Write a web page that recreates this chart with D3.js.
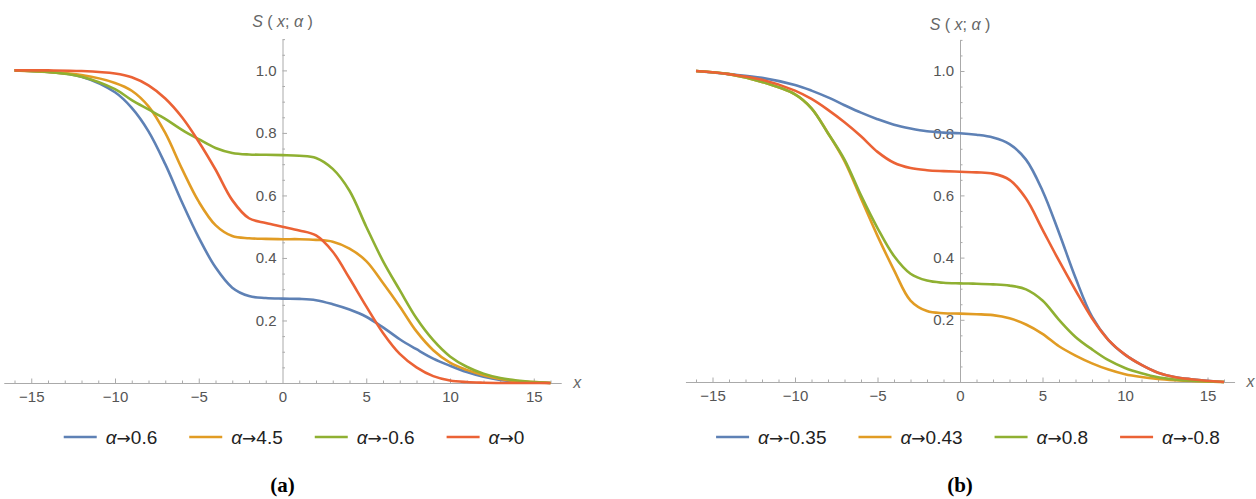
<!DOCTYPE html>
<html>
<head>
<meta charset="utf-8">
<script src="https://cdn.jsdelivr.net/npm/d3@7"></script>
<style>
  body { margin: 0; background: #fff; }
  svg { display: block; font-family: "Liberation Sans", Arial, sans-serif; }
  .tick text { fill: #555; font-size: 15px; }
  .caption { font-family: "Liberation Serif", "Times New Roman", serif; font-weight: bold; font-size: 21px; }
</style>
</head>
<body>
<svg id="chart" width="1256" height="499"></svg>
<script>
// sample points along x (same for every curve)
const xs = [-16, -14, -12, -10, -9, -8, -7, -6, -5, -4, -3, -2, -1, 0, 1, 2, 3, 4, 5, 6, 7, 8, 9, 10, 11, 12, 13, 14, 16];

// panel (a)
const aLabels = ["0.6", "4.5", "-0.6", "0"];
const aBlue   = [1.0, 0.995, 0.98, 0.93, 0.88, 0.805, 0.70, 0.578, 0.465, 0.37, 0.305, 0.278, 0.272, 0.27, 0.269, 0.265, 0.252, 0.235, 0.212, 0.178, 0.14, 0.108, 0.078, 0.055, 0.035, 0.02, 0.01, 0.005, 0.0];
const aOrange = [1.0, 0.995, 0.985, 0.96, 0.935, 0.885, 0.80, 0.685, 0.58, 0.505, 0.47, 0.463, 0.461, 0.46, 0.46, 0.458, 0.452, 0.43, 0.39, 0.32, 0.245, 0.165, 0.105, 0.065, 0.042, 0.025, 0.013, 0.006, 0.0];
const aGreen  = [1.0, 0.995, 0.98, 0.94, 0.905, 0.875, 0.845, 0.81, 0.78, 0.752, 0.736, 0.731, 0.73, 0.729, 0.727, 0.72, 0.685, 0.615, 0.50, 0.39, 0.297, 0.207, 0.137, 0.085, 0.052, 0.03, 0.016, 0.008, 0.0];
const aRed    = [1.0, 1.0, 0.998, 0.99, 0.978, 0.952, 0.91, 0.85, 0.772, 0.683, 0.585, 0.527, 0.512, 0.50, 0.488, 0.472, 0.42, 0.335, 0.245, 0.16, 0.093, 0.05, 0.022, 0.008, 0.003, 0.001, 0.0, 0.0, 0.0];

// panel (b)
const bLabels = ["-0.35", "0.43", "0.8", "-0.8"];
const bBlue   = [1.0, 0.99, 0.978, 0.955, 0.937, 0.915, 0.89, 0.866, 0.845, 0.827, 0.815, 0.806, 0.802, 0.80, 0.795, 0.786, 0.765, 0.715, 0.615, 0.48, 0.335, 0.21, 0.135, 0.088, 0.055, 0.03, 0.016, 0.009, 0.0];
const bOrange = [1.0, 0.99, 0.965, 0.925, 0.88, 0.80, 0.71, 0.59, 0.47, 0.36, 0.262, 0.228, 0.221, 0.22, 0.218, 0.215, 0.205, 0.185, 0.155, 0.115, 0.085, 0.06, 0.04, 0.025, 0.016, 0.01, 0.006, 0.003, 0.0];
const bGreen  = [1.0, 0.99, 0.965, 0.925, 0.88, 0.80, 0.715, 0.60, 0.495, 0.405, 0.348, 0.326, 0.319, 0.317, 0.316, 0.314, 0.31, 0.298, 0.262, 0.20, 0.145, 0.105, 0.07, 0.045, 0.028, 0.015, 0.008, 0.004, 0.0];
const bRed    = [1.0, 0.99, 0.972, 0.937, 0.91, 0.875, 0.835, 0.79, 0.74, 0.705, 0.688, 0.681, 0.678, 0.676, 0.674, 0.67, 0.65, 0.59, 0.49, 0.39, 0.295, 0.205, 0.135, 0.088, 0.055, 0.03, 0.016, 0.009, 0.0];

const xMajor = [-15, -10, -5, 0, 5, 10, 15];
const yMajor = [0.2, 0.4, 0.6, 0.8, 1.0];
const colors = ["#5E81B5", "#E19C24", "#8FB032", "#EB6235"];

const svg = d3.select("#chart");

function drawPanel(opt) {
  const g = svg.append("g");

  const x = d3.scaleLinear().domain([-16.64, 16.64]).range([opt.x0 - 16.64 * opt.kx, opt.x0 + 16.64 * opt.kx]);
  const y = d3.scaleLinear().domain([0, 1.1]).range([opt.y0, opt.y0 - 1.1 * opt.ky]);

  // minor ticks first
  const xMinor = d3.range(-16, 17).filter(v => v % 5 !== 0);
  const yMinor = d3.range(1, 23).map(v => v * 0.05).filter(v => Math.abs(v * 5 - Math.round(v * 5)) > 1e-6);

  g.append("g")
    .attr("transform", `translate(0,${opt.y0})`)
    .call(d3.axisBottom(x).tickValues(xMinor).tickSize(-2.5).tickSizeOuter(0).tickFormat(""))
    .call(a => a.select(".domain").attr("stroke", "#aaa"))
    .call(a => a.selectAll(".tick line").attr("stroke", "#aaa"));

  g.append("g")
    .attr("transform", `translate(0,${opt.y0})`)
    .call(d3.axisBottom(x).tickValues(xMajor).tickSize(-4.5).tickSizeOuter(0).tickPadding(8))
    .call(a => a.select(".domain").remove())
    .call(a => a.selectAll(".tick line").attr("stroke", "#aaa"))
    .call(a => a.selectAll(".tick line").filter(d => d === 0).remove());

  g.append("g")
    .attr("transform", `translate(${opt.x0},0)`)
    .call(d3.axisLeft(y).tickValues(yMinor).tickSize(-2.5).tickSizeOuter(0).tickFormat(""))
    .call(a => a.select(".domain").attr("stroke", "#aaa"))
    .call(a => a.selectAll(".tick line").attr("stroke", "#aaa"));

  g.append("g")
    .attr("transform", `translate(${opt.x0},0)`)
    .call(d3.axisLeft(y).tickValues(yMajor).tickSize(-4.5).tickPadding(6).tickFormat(d3.format(".1f")))
    .call(a => a.select(".domain").remove())
    .call(a => a.selectAll(".tick line").attr("stroke", "#aaa"));

  // axis labels
  const sLab = g.append("text")
    .attr("x", opt.x0)
    .attr("y", opt.sY)
    .attr("text-anchor", "middle")
    .style("font-size", "16px")
    .attr("fill", "#666")
    .attr("xml:space", "preserve");
  sLab.append("tspan").style("font-style", "italic").text("S");
  sLab.append("tspan").text(" ( ");
  sLab.append("tspan").style("font-style", "italic").text("x");
  sLab.append("tspan").text("; ");
  sLab.append("tspan").style("font-style", "italic").text("α");
  sLab.append("tspan").text(" )");

  g.append("text")
    .attr("x", x(16.64) + 12)
    .attr("y", opt.y0 + 5)
    .style("font-size", "16px")
    .style("font-style", "italic")
    .attr("fill", "#666")
    .text("x");

  // curves
  const line = d3.line()
    .x((d, i) => x(xs[i]))
    .y(d => y(d))
    .curve(d3.curveCatmullRom.alpha(0.5));

  opt.series.forEach((s, i) => {
    g.append("path")
      .datum(s)
      .attr("fill", "none")
      .attr("stroke", colors[i])
      .attr("stroke-width", 2.6)
      .attr("stroke-linejoin", "round")
      .attr("d", line);
  });

  // legend, centred under the panel
  const leg = g.append("g");
  let cx = 0;
  opt.labels.forEach((lab, i) => {
    const item = leg.append("g").attr("transform", `translate(${cx},0)`);
    item.append("line")
      .attr("x1", 0).attr("x2", 33)
      .attr("y1", 0).attr("y2", 0)
      .attr("stroke", colors[i])
      .attr("stroke-width", 2.6);
    const t = item.append("text")
      .attr("x", 42)
      .attr("y", 6.5)
      .style("font-size", "19px")
      .attr("fill", "#222");
    t.append("tspan").style("font-style", "italic").text("α");
    t.append("tspan").style("font-family", "'DejaVu Sans', sans-serif").style("font-size", "17px").text("→");
    t.append("tspan").text(lab);
    cx += 42 + t.node().getComputedTextLength() + 32;
  });
  const legW = cx - 32;
  leg.attr("transform", `translate(${opt.legCx - legW / 2},${opt.legY})`);

  svg.append("text")
    .attr("class", "caption")
    .attr("x", opt.x0)
    .attr("y", 492)
    .attr("text-anchor", "middle")
    .text(opt.caption);
}

drawPanel({
  x0: 282.5, kx: 16.75, y0: 383, ky: 312.6, sY: 27,
  series: [aBlue, aOrange, aGreen, aRed], labels: aLabels,
  legCx: 294, legY: 437, caption: "(a)"
});

drawPanel({
  x0: 960, kx: 16.5, y0: 382, ky: 311, sY: 30,
  series: [bBlue, bOrange, bGreen, bRed], labels: bLabels,
  legCx: 968, legY: 437, caption: "(b)"
});
</script>
</body>
</html>
